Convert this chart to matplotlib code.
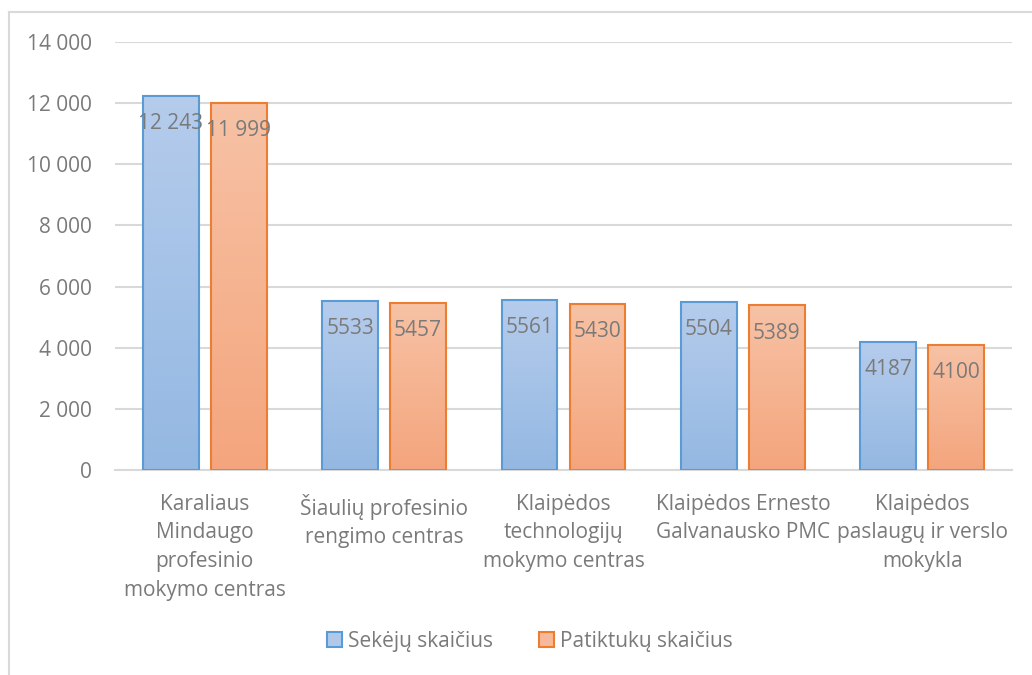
import numpy as np
import matplotlib.pyplot as plt
from matplotlib.colors import LinearSegmentedColormap
from matplotlib.patches import Patch
from matplotlib.lines import Line2D

plt.rcParams['font.family'] = ['Open Sans', 'DejaVu Sans']

categories = ['Karaliaus\nMindaugo\nprofesinio\nmokymo centras',
              'Šiaulių profesinio\nrengimo centras',
              'Klaipėdos\ntechnologijų\nmokymo centras',
              'Klaipėdos Ernesto\nGalvanausko PMC',
              'Klaipėdos\npaslaugų ir verslo\nmokykla']
sekeju = [12243, 5533, 5561, 5504, 4187]
patiktuku = [11999, 5457, 5430, 5389, 4100]
sekeju_labels = ['12 243', '5533', '5561', '5504', '4187']
patiktuku_labels = ['11 999', '5457', '5430', '5389', '4100']
yticks = [0, 2000, 4000, 6000, 8000, 10000, 12000, 14000]
ytick_labels = ['0', '2 000', '4 000', '6 000', '8 000', '10 000', '12 000', '14 000']

gray = '#7a7a7a'
grid = '#d9d9d9'

fig = plt.figure(figsize=(10.32, 6.75), dpi=100)
ax = fig.add_axes([115 / 1032, 1 - 470 / 675, 897 / 1032, 428 / 675])

blue_cmap = LinearSegmentedColormap.from_list('b', ['#94b8e2', '#b5ccec'])
orange_cmap = LinearSegmentedColormap.from_list('o', ['#f4a57d', '#f7c2a5'])
grad = np.linspace(0, 1, 256).reshape(-1, 1)

x = np.arange(len(categories))
w = 0.312
off = (w + 0.067) / 2

series = [(sekeju, sekeju_labels, -off, blue_cmap, '#5b9bd5'),
          (patiktuku, patiktuku_labels, off, orange_cmap, '#ed7d31')]

for vals, labs, dx, cmap, edge in series:
    bars = ax.bar(x + dx, vals, w, facecolor='none', edgecolor=edge, linewidth=1.5, zorder=3)
    for b, lab in zip(bars, labs):
        x0, h = b.get_x(), b.get_height()
        im = ax.imshow(grad, cmap=cmap, origin='lower', aspect='auto',
                       extent=[x0, x0 + b.get_width(), 0, h], zorder=2)
        im.set_clip_path(b)
        ax.annotate(lab, (x0 + b.get_width() / 2, h), xytext=(0, -20),
                    textcoords='offset points', ha='center', va='center',
                    fontsize=15, color=gray, zorder=4)

ax.set_xlim(-0.5, len(categories) - 0.5)
ax.set_ylim(0, 14000)
ax.set_yticks(yticks)
ax.set_yticklabels(ytick_labels)
ax.set_xticks(x)
ax.set_xticklabels(categories, linespacing=1.48)
ax.tick_params(axis='both', length=0, labelsize=15, labelcolor=gray)
ax.tick_params(axis='y', pad=16.5)
ax.tick_params(axis='x', pad=17)
ax.yaxis.grid(True, color=grid, linewidth=1.5, zorder=0)
ax.set_axisbelow(True)
for s in ['top', 'right', 'left']:
    ax.spines[s].set_visible(False)
ax.spines['bottom'].set_color(grid)
ax.spines['bottom'].set_linewidth(1.5)

handles = [Patch(facecolor='#b0c9ea', edgecolor='#5b9bd5', linewidth=1.5),
           Patch(facecolor='#f6b999', edgecolor='#ed7d31', linewidth=1.5)]
fig.legend(handles, ['Sekėjų skaičius', 'Patiktukų skaičius'], loc='center',
           bbox_to_anchor=(530 / 1032, 1 - 641 / 675), ncol=2, frameon=False,
           fontsize=15, labelcolor=gray, handlelength=0.7, handleheight=0.7,
           handletextpad=0.3, columnspacing=2.2)

fig.add_artist(Line2D([9 / 1032, 1], [1 - 12 / 675, 1 - 12 / 675], color=grid, linewidth=1.5))
fig.add_artist(Line2D([9 / 1032, 9 / 1032], [0, 1 - 12 / 675], color=grid, linewidth=1.5))

fig.savefig('out.png', dpi=100)
